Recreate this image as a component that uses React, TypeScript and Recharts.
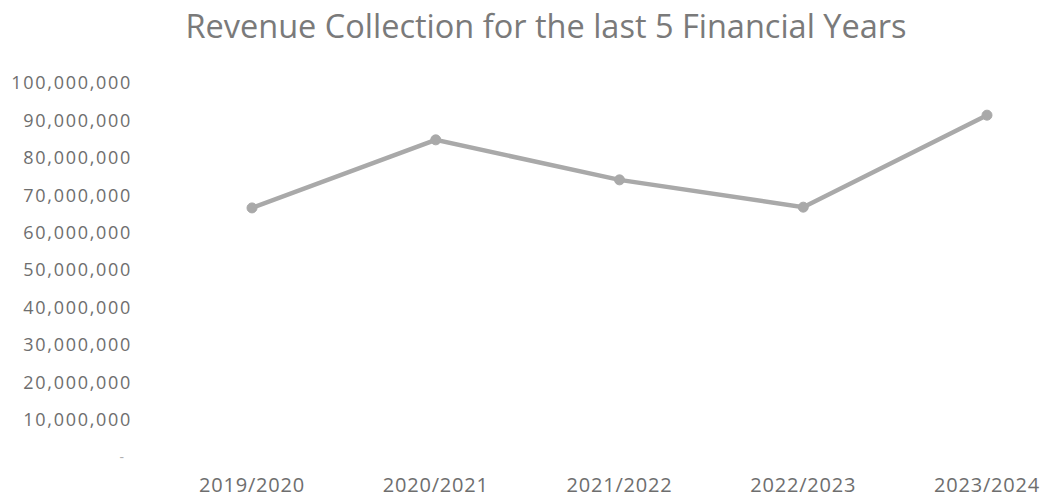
import React from "react";
import { LineChart, Line, XAxis, YAxis } from "recharts";

const categories = ["2019/2020", "2020/2021", "2021/2022", "2022/2023", "2023/2024"];
const revenue = [66600000, 84800000, 74100000, 66800000, 91400000];
const yTicks = [0, 10000000, 20000000, 30000000, 40000000, 50000000, 60000000, 70000000, 80000000, 90000000, 100000000];

const data = categories.map((c, i) => ({ year: c, revenue: revenue[i] }));

const FONT = "'Open Sans', sans-serif";
const TICK_COLOR = "#6e6e6e";

const YTick = (props: any) => {
  const { x, y, payload } = props;
  const v = payload.value as number;
  if (v === 0) {
    return (
      <text x={x - 8} y={y} dy="0.35em" textAnchor="end" fill="#b0b0b0" fontSize={14} fontFamily={FONT}>
        -
      </text>
    );
  }
  return (
    <text x={x} y={y} dy="0.35em" textAnchor="end" fill={TICK_COLOR} fontSize={18} fontFamily={FONT} letterSpacing={1.7}>
      {v.toLocaleString("en-US")}
    </text>
  );
};

export default function App() {
  return (
    <div style={{ position: "absolute", left: 0, top: 0, width: 1044, height: 498, background: "#fff" }}>
      <div
        style={{
          position: "absolute",
          left: 0,
          top: 6,
          width: 1092,
          textAlign: "center",
          fontFamily: FONT,
          fontSize: 32.5,
          color: "#7a7a7a",
          lineHeight: "40px",
        }}
      >
        Revenue Collection for the last 5 Financial Years
      </div>
      <LineChart width={1044} height={498} data={data} margin={{ top: 83, right: 4, bottom: 0, left: 0 }}>
        <XAxis
          dataKey="year"
          axisLine={false}
          tickLine={false}
          tickSize={0}
          tickMargin={21}
          height={41}
          padding={{ left: 92, right: 53 }}
          tick={{ fill: TICK_COLOR, fontSize: 20, fontFamily: FONT, letterSpacing: 0.8 }}
          interval={0}
        />
        <YAxis
          domain={[0, 100000000]}
          ticks={yTicks}
          axisLine={false}
          tickLine={false}
          tickSize={0}
          tickMargin={28}
          width={160}
          tick={<YTick />}
          interval={0}
        />
        <Line
          type="linear"
          dataKey="revenue"
          stroke="#a9a9a9"
          strokeWidth={4.5}
          dot={{ r: 5, fill: "#a9a9a9", stroke: "#a9a9a9", strokeWidth: 1 }}
          isAnimationActive={false}
        />
      </LineChart>
    </div>
  );
}
